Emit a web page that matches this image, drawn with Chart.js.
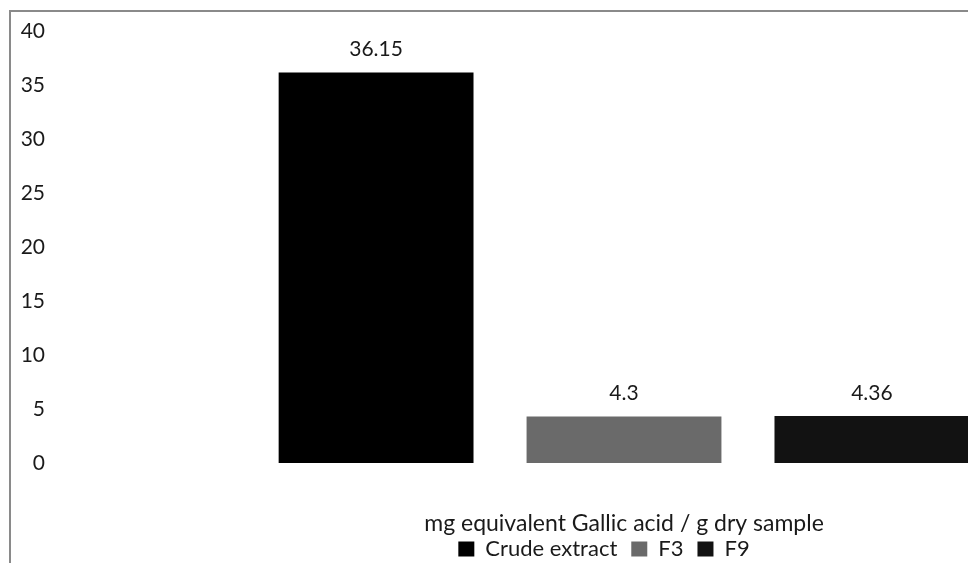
<!DOCTYPE html>
<html>
<head>
<meta charset="utf-8">
<script src="https://cdn.jsdelivr.net/npm/chart.js@4/dist/chart.umd.min.js"></script>
<style>
    html, body { margin: 0; padding: 0; background: #fff; overflow: hidden; width: 968px; height: 563px; }
    .frame {
        position: absolute; left: 9px; top: 10px;
        width: 1220px; height: 558px;
        border-left: 2px solid #8a8a8a; border-top: 2px solid #8a8a8a;
    }
</style>
</head>
<body>
<div class="frame"><canvas id="chart"></canvas></div>
<script>
    // single category, one dataset per sample
    let categories = ['mg equivalent Gallic acid / g dry sample'];
    let seriesNames = ['Crude extract', 'F3', 'F9'];
    let seriesValues = [36.15, 4.3, 4.36];
    let seriesLabels = ['36.15', '4.3', '4.36'];
    let seriesColors = ['#000000', '#6a6a6a', '#121212'];
    let yTicks = [0, 5, 10, 15, 20, 25, 30, 35, 40];

    const fontFamily = 'Lato, "Open Sans", sans-serif';
    const textColor = '#1a1a1a';

    // draws value labels above each bar
    const valueLabels = {
        id: 'valueLabels',
        afterDatasetsDraw: function (chart) {
            let ctx = chart.ctx;
            ctx.save();
            ctx.font = '21px ' + fontFamily;
            ctx.fillStyle = textColor;
            ctx.textAlign = 'center';
            ctx.textBaseline = 'middle';
            chart.data.datasets.forEach((ds, i) => {
                let meta = chart.getDatasetMeta(i);
                meta.data.forEach((bar) => {
                    ctx.fillText(seriesLabels[i], bar.x, bar.y - 23);
                });
            });
            ctx.restore();
        }
    };

    let datasets = seriesNames.map((name, i) => {
        return {
            label: name,
            data: [seriesValues[i]],
            backgroundColor: seriesColors[i],
            borderWidth: 0,
            categoryPercentage: 0.649,
            barPercentage: 0.786
        };
    });

    new Chart(document.getElementById('chart'), {
        type: 'bar',
        data: {
            labels: categories,
            datasets: datasets
        },
        options: {
            responsive: true,
            maintainAspectRatio: false,
            animation: false,
            layout: {
                padding: { left: 0, right: 34, top: 19, bottom: 0 }
            },
            plugins: {
                legend: {
                    position: 'bottom',
                    labels: {
                        font: { family: fontFamily, size: 22 },
                        color: textColor,
                        boxWidth: 16,
                        boxHeight: 15,
                        padding: 14
                    }
                },
                tooltip: { enabled: false }
            },
            scales: {
                x: {
                    afterFit: function (scale) {
                        scale.height = 61;
                    },
                    grid: { display: false },
                    border: { display: false },
                    ticks: { display: false },
                    // the single category name sits under the bar group
                    title: {
                        display: true,
                        text: categories[0],
                        font: { family: fontFamily, size: 23 },
                        color: textColor,
                        padding: { top: 0, bottom: -13 }
                    }
                },
                y: {
                    min: 0,
                    max: 40,
                    afterBuildTicks: function (scale) {
                        scale.ticks = yTicks.map(v => ({ value: v }));
                    },
                    afterFit: function (scale) {
                        scale.width = 40;
                    },
                    grid: { display: false, drawTicks: false },
                    border: { display: false },
                    ticks: {
                        font: { family: fontFamily, size: 21 },
                        color: textColor,
                        padding: 6
                    }
                }
            }
        },
        plugins: [valueLabels]
    });
</script>
</body>
</html>
